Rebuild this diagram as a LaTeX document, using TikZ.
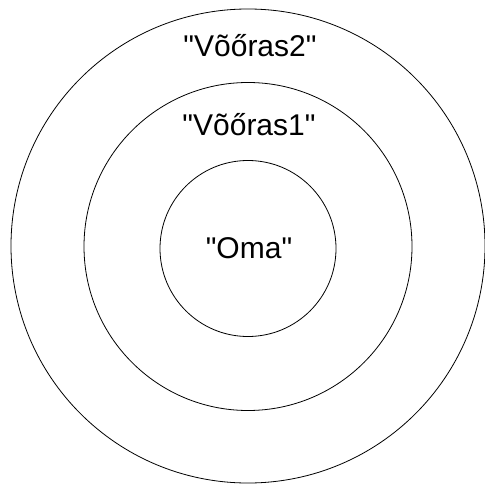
\documentclass[tikz,border=0pt]{standalone}
\usepackage{fontspec}
\newfontfamily\labelfont{Liberation Sans}
\begin{document}
\begin{tikzpicture}[x=1pt, y=-1pt,
    ring/.style={draw, circle, line width=0.8pt, inner sep=0pt},
    label/.style={font=\labelfont\fontsize{30}{32}\selectfont, inner sep=0pt}]
    \useasboundingbox (0,0) rectangle (484,486);

    % Concentric rings
    \node[ring, minimum size=474pt] (outer) at (248,246) {};
    \node[ring, minimum size=328pt] (middle) at (248,246.5) {};
    \node[ring, minimum size=176pt] (inner) at (248,248.5) {};

    % Ring names
    \node[label] (guest2) at (250,46) {"Võőras2"};
    \node[label] (guest1) at (249,125) {"Võőras1"};
    \node[label] (own) at (249,248) {"Oma"};
\end{tikzpicture}
\end{document}
